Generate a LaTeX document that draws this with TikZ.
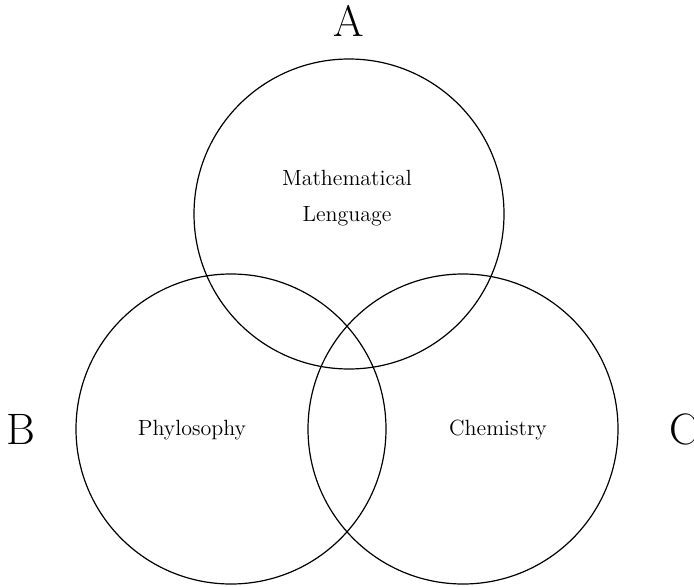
\documentclass[tikz,border=0pt]{standalone}
\usepackage{tikz}

\begin{document}
\begin{tikzpicture}[x=0.5pt, y=-0.5pt]

% Diameter of every set (in pt, 310 px)
\def\diam{155pt}

\tikzset{
  setcircle/.style={draw, circle, line width=0.6pt, minimum size=\diam, inner sep=0pt},
  setlabel/.style={font=\fontsize{22}{26}\selectfont, inner sep=0pt},
  subject/.style={font=\fontsize{11}{18}\selectfont, align=center, inner sep=0pt}
}

\useasboundingbox (0,0) rectangle (694,587);

% The three sets
\node[setcircle] (setA) at (349,214) {};
\node[setcircle] (setB) at (231,429) {};
\node[setcircle] (setC) at (463,429) {};

% Set names
\node[setlabel] (labelA) at (349,21) {A};
\node[setlabel] (labelB) at (21,429) {B};
\node[setlabel] (labelC) at (684,429) {C};

% Contents
\node[subject] (math) at (347,198) {Mathematical\\Lenguage};
\node[subject] (philo) at (192,430) {Phylosophy};
\node[subject] (chem) at (498,430) {Chemistry};

\end{tikzpicture}
\end{document}
